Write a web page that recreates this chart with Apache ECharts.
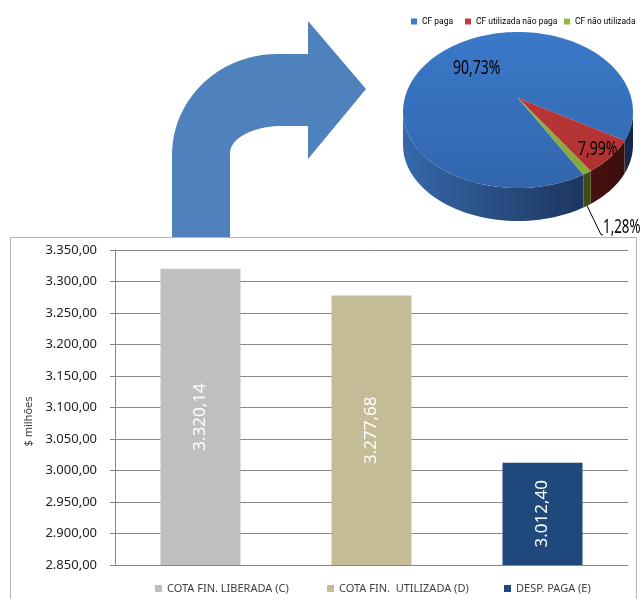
<!DOCTYPE html>
<html>
<head>
<meta charset="utf-8">
<script src="https://cdn.jsdelivr.net/npm/echarts@6/dist/echarts.min.js"></script>
<style>
html,body{margin:0;padding:0;background:#fff;}
#chart{position:absolute;left:0;top:0;width:640px;height:599px;}
</style>
</head>
<body>
<div id="chart"></div>
<script>
// ---- data ----
const barCategories = ['COTA FIN. LIBERADA (C)', 'COTA FIN.  UTILIZADA (D)', 'DESP. PAGA (E)'];
const barValues = [3320.14, 3277.68, 3012.40];
const yMin = 2850;
const yMax = 3350;
const yInterval = 50;
const yAxisName = '$ milhões';

const pieNames = ['CF paga', 'CF utilizada não paga', 'CF não utilizada'];
const pieValues = [90.73, 7.99, 1.28];

// ---- styles / layout ----
const barColors = ['#bfbfbf', '#c4bd97', '#1f497d'];
const barLegendLeft = [150, 322, 499];
const pieLegendLeft = [406, 460, 559];
const pieTopColors = [['#3b79c9', '#3166ad'], ['#c43a3c', '#ad3031'], ['#92b73f', '#86a836']];
const pieSideColors = [['#3668aa', '#15284a'], ['#761e1e', '#3a0d0d'], ['#5a6d21', '#3a4514']];
const pieLayout = { cx: 518, cy: 112, rx: 115, ryBack: 80, ryFront: 76, depth: 33, apexDy: -14, start: 55.4 };
const pieLabelRadius = [0.55, 0.86, null];
const pieLabelOffset = [[8, -4], [0, 13], [0, 5]];

function fmtBR(v) {
  const s = Number(v).toFixed(2);
  const parts = s.split('.');
  return parts[0].replace(/\B(?=(\d{3})+(?!\d))/g, '.') + ',' + parts[1];
}
function fmtPct(v) { return v.toFixed(2).replace('.', ',') + '%'; }

const L = pieLayout;
function pt(aDeg, dy) {
  const a = aDeg * Math.PI / 180;
  const s = Math.sin(a);
  return [L.cx + L.rx * Math.cos(a), L.cy + (s > 0 ? L.ryFront : L.ryBack) * s + (dy || 0)];
}
function arc(a0, a1, dy) {
  const n = Math.max(2, Math.ceil((a1 - a0) / 2));
  const out = [];
  for (let k = 0; k <= n; k++) out.push(pt(a0 + (a1 - a0) * k / n, dy));
  return out;
}
function sliceAngles(i) {
  const total = pieValues.reduce((s, v) => s + v, 0);
  let a0 = L.start;
  for (let j = 0; j < i; j++) a0 += pieValues[j] / total * 360;
  return [a0, a0 + pieValues[i] / total * 360];
}
function linGrad(x, y, x2, y2, c0, c1) {
  return { type: 'linear', x: x, y: y, x2: x2, y2: y2, global: true,
    colorStops: [{ offset: 0, color: c0 }, { offset: 1, color: c1 }] };
}

function makeRender(i) {
  return function (params, api) {
    const [a0, a1] = sliceAngles(i);
    const children = [];
    const sideGrad = linGrad(L.cx - L.rx, 0, L.cx + L.rx, 0, pieSideColors[i][0], pieSideColors[i][1]);
    for (const k of [-360, 0, 360]) {
      const lo = Math.max(a0, k), hi = Math.min(a1, k + 180);
      if (hi > lo) {
        const top = arc(lo, hi, 0);
        const bot = arc(lo, hi, L.depth).reverse();
        children.push({ type: 'polygon', shape: { points: top.concat(bot) }, style: { fill: sideGrad } });
      }
    }
    const topGrad = linGrad(0, L.cy - L.ryBack, 0, L.cy + L.ryFront, pieTopColors[i][0], pieTopColors[i][1]);
    const apex = [L.cx, L.cy + L.apexDy];
    children.push({ type: 'polygon', shape: { points: [apex].concat(arc(a0, a1, 0)) }, style: { fill: topGrad } });
    const mid = (a0 + a1) / 2, m = mid * Math.PI / 180;
    const txt = fmtPct(pieValues[i]);
    if (pieLabelRadius[i] != null) {
      const f = pieLabelRadius[i];
      children.push({ type: 'text',
        x: apex[0] + L.rx * f * Math.cos(m) + pieLabelOffset[i][0],
        y: apex[1] + L.ryFront * f * Math.sin(m) + pieLabelOffset[i][1],
        scaleX: 0.7,
        style: { text: txt, x: 0, y: 0, fill: '#000', fontSize: 20, fontFamily: 'Noto Sans',
          align: 'center', verticalAlign: 'middle' }, z2: 10 });
    } else {
      const p = pt(mid, L.depth);
      const e = [p[0] + 14, p[1] + 24 + pieLabelOffset[i][1]];
      children.push({ type: 'polyline', shape: { points: [p, e, [e[0] + 2, e[1]]] }, style: { stroke: '#000', lineWidth: 1, fill: null } });
      children.push({ type: 'text', x: e[0] + 2, y: e[1] + 2, scaleX: 0.7,
        style: { text: txt, x: 0, y: 0, fill: '#000', fontSize: 19, fontFamily: 'Noto Sans',
          align: 'left', verticalAlign: 'bottom' }, z2: 10 });
    }
    return { type: 'group', children: children };
  };
}

// decorative arrow outline (sampled as a polygon)
function ellArc(cx, cy, rx, ry, d0, d1, n) {
  const out = [];
  for (let k = 0; k <= n; k++) {
    const a = (d0 + (d1 - d0) * k / n) * Math.PI / 180;
    out.push([cx + rx * Math.cos(a), cy + ry * Math.sin(a)]);
  }
  return out;
}
const arrowPoints = [[172, 238]]
  .concat(ellArc(277, 155, 105, 101, 180, 270, 30))
  .concat([[308, 54], [308, 21], [366, 89], [308, 159], [308, 126]])
  .concat(ellArc(282, 153, 52, 27, 270, 180, 20))
  .concat([[230, 238]]);

const chart = echarts.init(document.getElementById('chart'), null, { renderer: 'canvas' });

const barSeries = barCategories.map((name, i) => ({
  name: name,
  type: 'bar',
  stack: 'bars',
  barWidth: 80,
  data: barCategories.map((c, j) => (j === i ? barValues[i] : '-')),
  itemStyle: { color: barColors[i] },
  label: {
    show: true, position: 'inside', rotate: 90, color: '#ffffff',
    fontSize: 17, fontFamily: 'Noto Sans', formatter: p => fmtBR(p.value)
  },
  z: 3
}));

const pieSeries = pieNames.map((name, i) => ({
  name: name,
  type: 'custom',
  coordinateSystem: 'none',
  renderItem: makeRender(i),
  data: [pieValues[i]],
  itemStyle: { color: pieTopColors[i][0] },
  silent: true,
  z: 5
}));

const barLegends = barCategories.map((name, i) => ({
  data: [name],
  left: barLegendLeft[i], top: 578,
  icon: 'rect', itemWidth: 7, itemHeight: 7,
  textStyle: { fontSize: 11, color: '#404040', fontFamily: 'Noto Sans' },
  selectedMode: false
}));
const pieLegends = pieNames.map((name, i) => ({
  data: [{ name: name, itemStyle: { color: pieTopColors[i][0] } }],
  left: pieLegendLeft[i], top: 12,
  icon: 'rect', itemWidth: 6, itemHeight: 6,
  textStyle: { fontSize: 8.5, color: '#000', fontFamily: 'Roboto' },
  selectedMode: false
}));

chart.setOption({
  animation: false,
  backgroundColor: '#ffffff',
  graphic: [
    { type: 'polygon', shape: { points: arrowPoints }, style: { fill: '#4f81bd' }, z: 0 },
    { type: 'rect', shape: { x: 10.5, y: 237.5, width: 626, height: 420 }, style: { fill: null, stroke: '#b3b3b3', lineWidth: 1 }, z: 1 }
  ],
  grid: { left: 115, right: 12, top: 250, bottom: 34 },
  legend: barLegends.concat(pieLegends),
  xAxis: {
    type: 'category',
    data: barCategories,
    axisLine: { lineStyle: { color: '#868686' } },
    axisTick: { show: false },
    axisLabel: { show: false }
  },
  yAxis: {
    type: 'value',
    min: yMin, max: yMax, interval: yInterval,
    name: yAxisName, nameLocation: 'middle', nameGap: 80,
    nameTextStyle: { fontSize: 11, color: '#404040', fontFamily: 'Noto Sans', padding: [0, 28, 0, 0] },
    axisLine: { show: true, lineStyle: { color: '#868686' } },
    axisTick: { show: true, inside: false, length: 5, lineStyle: { color: '#868686' } },
    axisLabel: { margin: 18, fontSize: 13, color: '#222', fontFamily: 'Noto Sans', formatter: v => fmtBR(v) },
    splitLine: { show: true, lineStyle: { color: '#868686', width: 1 } }
  },
  series: barSeries.concat(pieSeries)
});
</script>
</body>
</html>
